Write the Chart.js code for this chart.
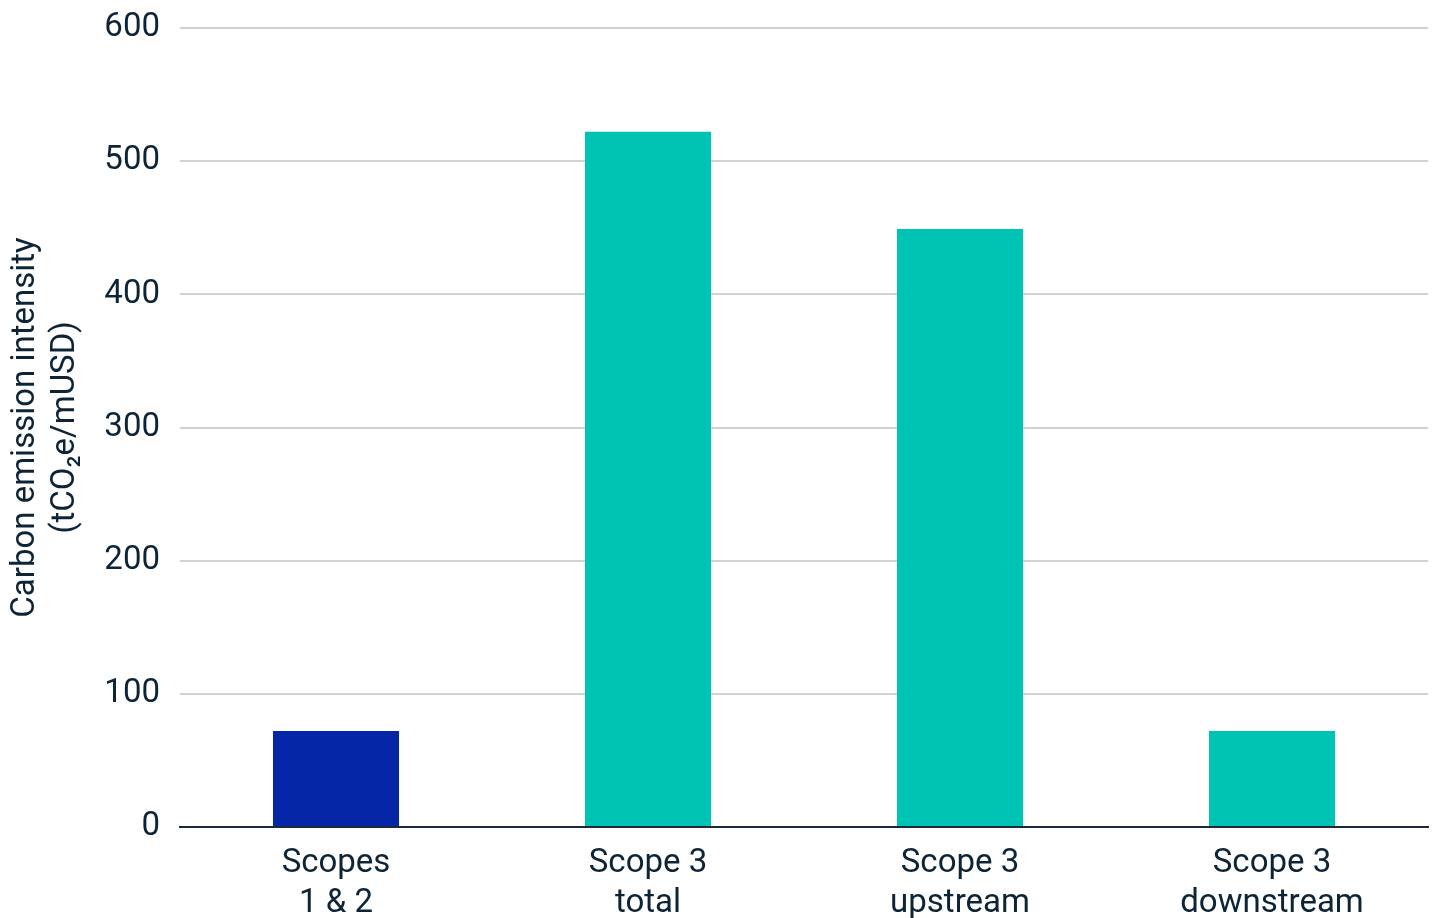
<!DOCTYPE html>
<html>
<head>
<meta charset="utf-8">
<script src="https://cdn.jsdelivr.net/npm/chart.js@4.4.1/dist/chart.umd.min.js"></script>
<style>
  html, body { margin: 0; padding: 0; background: #fff; }
  #wrap { width: 1435px; height: 918px; position: relative; }
</style>
</head>
<body>
<div id="wrap"><canvas id="intensityChart"></canvas></div>
<script>
// Carbon emission intensity by scope
const categories = [['Scopes', '1 & 2'], ['Scope 3', 'total'], ['Scope 3', 'upstream'], ['Scope 3', 'downstream']];
const intensity = [72, 522, 449, 72];
const barColors = ['#0626A8', '#00C4B3', '#00C4B3', '#00C4B3'];
const yTicks = [0, 100, 200, 300, 400, 500, 600];

const textColor = '#0d2436';

const ctx = document.getElementById('intensityChart').getContext('2d');

new Chart(ctx, {
    type: 'bar',
    data: {
        labels: categories,
        datasets: [{
            data: intensity,
            backgroundColor: barColors,
            borderWidth: 0,
            barPercentage: 0.404,
            categoryPercentage: 1
        }]
    },
    options: {
        responsive: true,
        maintainAspectRatio: false,
        animation: false,
        layout: { padding: { left: 6, right: 7, top: 0, bottom: 0 } },
        plugins: {
            legend: { display: false },
            tooltip: { enabled: false }
        },
        scales: {
            x: {
                grid: { display: false },
                border: { display: true, color: '#1b2a3a', width: 2 },
                ticks: {
                    color: textColor,
                    font: { family: 'Roboto', size: 33, lineHeight: 1.2 },
                    padding: 9,
                    maxRotation: 0
                },
                afterFit: (scale) => { scale.height = 91; }
            },
            y: {
                min: 0,
                max: 600,
                afterBuildTicks: (scale) => { scale.ticks = yTicks.map(v => ({ value: v })); },
                grid: { color: '#d2d2d2', lineWidth: 2, drawTicks: false },
                border: { display: false },
                ticks: {
                    color: textColor,
                    font: { family: 'Roboto', size: 33 },
                    padding: 20
                },
                title: {
                    display: true,
                    text: ['Carbon emission intensity', '(tCO\u2082e/mUSD)'],
                    color: textColor,
                    font: { family: 'Roboto', size: 33, lineHeight: 1.2 },
                    padding: { top: 0, bottom: 10 }
                },
                afterFit: (scale) => {
                    scale.width = 174;
                    scale.paddingTop = 28;
                    scale.paddingBottom = 0;
                }
            }
        }
    }
});
</script>
</body>
</html>
